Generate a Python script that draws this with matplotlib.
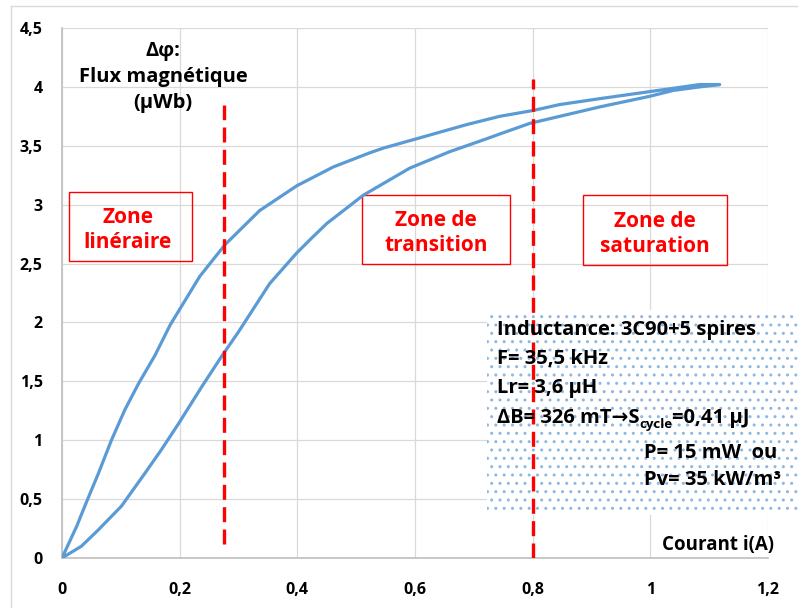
import matplotlib
matplotlib.use("Agg")
import matplotlib.pyplot as plt
from matplotlib.patches import Rectangle
from matplotlib.lines import Line2D

plt.rcParams["font.family"] = ["Open Sans", "Noto Sans", "DejaVu Sans"]
plt.rcParams["font.weight"] = "bold"
plt.rcParams["hatch.linewidth"] = 1.0

# Hysteresis loop: rising branch (lower) and falling branch (upper)
i_up = [0, 0.033, 0.062, 0.101, 0.141, 0.169, 0.198, 0.237, 0.271, 0.300,
        0.353, 0.399, 0.421, 0.450, 0.512, 0.591, 0.659, 0.722, 0.744, 0.795,
        0.846, 0.914, 0.999, 1.039, 1.084, 1.118]
phi_up = [0, 0.10, 0.24, 0.44, 0.72, 0.92, 1.14, 1.45, 1.71, 1.92,
          2.33, 2.59, 2.70, 2.84, 3.08, 3.31, 3.45, 3.56, 3.60, 3.69,
          3.75, 3.83, 3.92, 3.97, 4.00, 4.02]
i_down = [0, 0.025, 0.042, 0.062, 0.084, 0.107, 0.130, 0.158, 0.184, 0.234,
          0.277, 0.336, 0.399, 0.461, 0.523, 0.546, 0.603, 0.688, 0.744, 0.801,
          0.846, 0.914, 0.999, 1.056, 1.084, 1.118]
phi_down = [0, 0.27, 0.48, 0.72, 1.00, 1.26, 1.48, 1.72, 1.98, 2.39,
            2.66, 2.95, 3.16, 3.32, 3.44, 3.48, 3.56, 3.68, 3.75, 3.80,
            3.85, 3.90, 3.96, 4.00, 4.02, 4.02]

zone_limits = [0.275, 0.8]
zone_names = ["Zone\nlinéraire", "Zone de\ntransition", "Zone de\nsaturation"]
zone_x = [0.112, 0.636, 1.008]

x_ticks = [0, 0.2, 0.4, 0.6, 0.8, 1.0, 1.2]
y_ticks = [0, 0.5, 1, 1.5, 2, 2.5, 3, 3.5, 4, 4.5]

blue = "#5B9BD5"
red = "#FF0000"

fig = plt.figure(figsize=(7.98, 6.08), dpi=100)
ax = fig.add_axes([62 / 798, 1 - 558 / 608, 706 / 798, 530 / 608])

ax.plot(i_up + i_down[::-1], phi_up + phi_down[::-1], color=blue, lw=2.3,
        solid_joinstyle="round", zorder=4)

ax.set_xlim(0, 1.2)
ax.set_ylim(0, 4.5)
ax.set_xticks(x_ticks)
ax.set_yticks(y_ticks)
ax.set_xticklabels([("%g" % v).replace(".", ",") for v in x_ticks])
ax.set_yticklabels([("%g" % v).replace(".", ",") for v in y_ticks])
ax.tick_params(length=0, labelsize=11.5, pad=0)
ax.tick_params(axis="y", pad=14)
ax.tick_params(axis="x", pad=17)
for lab in ax.get_xticklabels() + ax.get_yticklabels():
    lab.set_fontweight("bold")
ax.grid(True, color="#d9d9d9", lw=0.9)
ax.set_axisbelow(True)
for s in ["top", "right"]:
    ax.spines[s].set_visible(False)
for s in ["left", "bottom"]:
    ax.spines[s].set_color("#bfbfbf")
    ax.spines[s].set_linewidth(1.2)

# zone limits
ax.plot([zone_limits[0]] * 2, [0.12, 3.85], color=red, lw=2.4, dashes=(4.5, 2.2), zorder=5)
ax.plot([zone_limits[1]] * 2, [0, 4.07], color=red, lw=2.4, dashes=(4.5, 2.2), zorder=5)

# zone boxes
boxes = [(0.012, 2.52, 0.209, 0.59), (0.510, 2.50, 0.252, 0.58), (0.885, 2.49, 0.245, 0.59)]
for (bx, by, bw, bh), name, tx in zip(boxes, zone_names, zone_x):
    ax.add_patch(Rectangle((bx, by), bw, bh, fill=False, ec=red, lw=1.0, zorder=3))
    ax.text(tx, by + bh / 2 - 0.03, name, color=red, fontsize=15, fontweight="bold",
            ha="center", va="center", linespacing=1.25, zorder=6)

# info box with dotted background
ax.add_patch(Rectangle((0.722, 0.365), 0.529, 1.74, facecolor="white", edgecolor="#8DB8E2",
                       lw=0, hatch="..", clip_on=False, zorder=3))
fs = 14.5
info = ["Inductance: 3C90+5 spires", "F= 35,5 kHz", "Lr= 3,6 µH"]
for k, line in enumerate(info):
    ax.text(0.739, 1.94 - 0.25 * k, line, fontsize=fs, fontweight="bold",
            va="center", ha="left", zorder=6)
t1 = ax.text(0.739, 1.19, "ΔB= 326 mT→S", fontsize=fs, fontweight="bold",
             va="center", ha="left", zorder=6)
t2 = ax.annotate("cycle", xy=(1, 0), xycoords=t1, xytext=(0, -2), textcoords="offset points",
                 fontsize=9.5, fontweight="bold", va="bottom", ha="left", zorder=6)
ax.annotate("=0,41 µJ", xy=(1, 0), xycoords=(t2, t1), fontsize=fs, fontweight="bold",
            va="bottom", ha="left", zorder=6)
ax.text(0.989, 0.89, "P= 15 mW  ou", fontsize=fs, fontweight="bold",
        va="center", ha="left", zorder=6)
ax.text(0.989, 0.66, "Pv= 35 kW/m³", fontsize=fs, fontweight="bold",
        va="center", ha="left", zorder=6)

# axis titles
ax.text(0.172, 4.08, "Δφ:\nFlux magnétique\n(µWb)", fontsize=14.5, fontweight="bold",
        ha="center", va="center", linespacing=1.4, zorder=6)
ax.text(1.21, 0.11, "Courant i(A)", fontsize=13.5, fontweight="bold",
        ha="right", va="center", zorder=6)

# chart area border
fig.add_artist(Line2D([11 / 798, 11 / 798], [0, 1 - 6 / 608], color="#d9d9d9", lw=1))
fig.add_artist(Line2D([11 / 798, 1], [1 - 6 / 608, 1 - 6 / 608], color="#d9d9d9", lw=1))

fig.savefig("out.png", dpi=100)
